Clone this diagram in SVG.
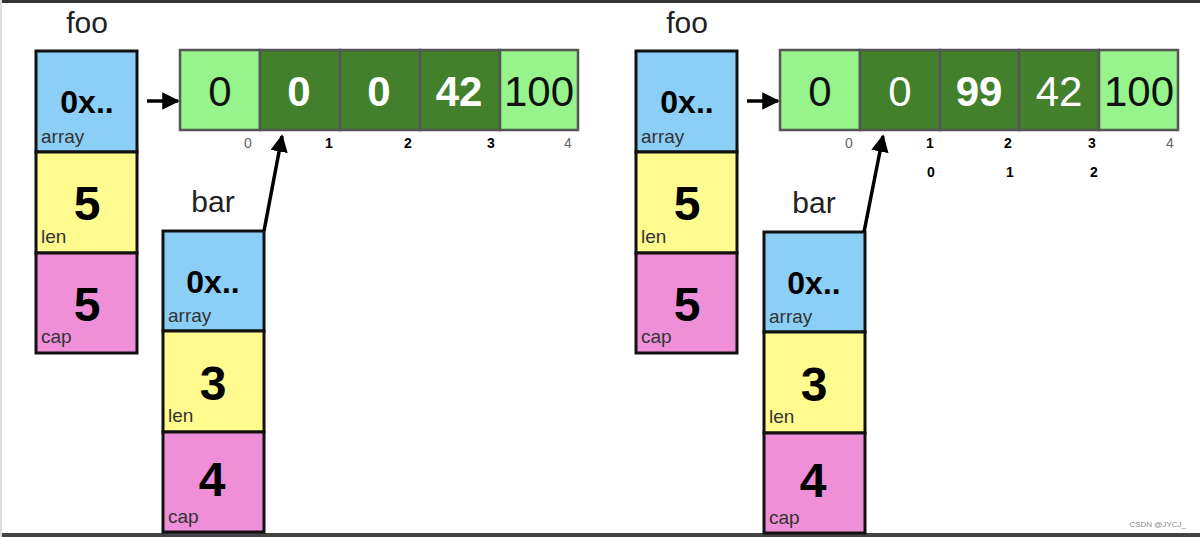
<svg xmlns="http://www.w3.org/2000/svg" width="1200" height="537" viewBox="0 0 1200 537">
<defs>
<style>
.lbl{font-family:"Liberation Sans",Arial,sans-serif;font-size:30px;fill:#222;text-anchor:middle}
.val{font-family:"Liberation Sans",Arial,sans-serif;font-weight:bold;fill:#000;text-anchor:middle}
.sub{font-family:"Liberation Sans",Arial,sans-serif;font-size:19px;fill:#333}
.cell{stroke:#555;stroke-width:2.5}
.lg{fill:#97F38B}
.dg{fill:#43802B}
.num{font-family:"Liberation Sans",Arial,sans-serif;font-size:42px;text-anchor:middle}
.idx{font-family:"Liberation Sans",Arial,sans-serif;font-size:14px;text-anchor:middle}
.box{stroke:#111;stroke-width:3}
.blue{fill:#8BCFF7}
.yel{fill:#FFFB8E}
.pink{fill:#EE8FD8}
.conn{stroke:#000;stroke-width:3.5;fill:none}
</style>
<marker id="ah" viewBox="0 0 10 10" refX="9" refY="5" markerWidth="5" markerHeight="5" orient="auto" markerUnits="strokeWidth">
<path d="M0,0 L10,5 L0,10 z" fill="#000"/>
</marker>
</defs>
<rect x="0" y="0" width="1200" height="537" fill="#fff"/>
<rect x="0" y="0" width="1200" height="3" fill="#333"/>
<rect x="0" y="533" width="1200" height="4" fill="#444"/>
<rect x="0" y="0" width="2" height="537" fill="#ddd"/>

<!-- LEFT -->
<g id="foo-left">
<text class="lbl" x="87" y="33">foo</text>
<rect class="box blue" x="36" y="51" width="101" height="101"/>
<rect class="box yel" x="36" y="152" width="101" height="101"/>
<rect class="box pink" x="36" y="253" width="101" height="100"/>
<text class="val" x="87" y="113" font-size="32">0x..</text>
<text class="sub" x="41" y="143">array</text>
<text class="val" x="87" y="220" font-size="48">5</text>
<text class="sub" x="41" y="243">len</text>
<text class="val" x="87" y="321" font-size="48">5</text>
<text class="sub" x="41" y="343">cap</text>
</g>

<g id="array-left">
<rect class="cell lg" x="180" y="50" width="80" height="80"/>
<rect class="cell dg" x="260" y="50" width="80" height="80"/>
<rect class="cell dg" x="340" y="50" width="80" height="80"/>
<rect class="cell dg" x="420" y="50" width="80" height="80"/>
<rect class="cell lg" x="500" y="50" width="78" height="80"/>
<text class="num" x="220" y="106" fill="#111">0</text>
<text class="num" x="299" y="106" fill="#fff" font-weight="bold">0</text>
<text class="num" x="379" y="106" fill="#fff" font-weight="bold">0</text>
<text class="num" x="459" y="106" fill="#fff" font-weight="bold">42</text>
<text class="num" x="539" y="106" fill="#111">100</text>
<text class="idx" x="248" y="148" fill="#666">0</text>
<text class="idx" x="329" y="148" fill="#000" font-weight="bold">1</text>
<text class="idx" x="408" y="148" fill="#000" font-weight="bold">2</text>
<text class="idx" x="491" y="148" fill="#000" font-weight="bold">3</text>
<text class="idx" x="568" y="148" fill="#666">4</text>
</g>

<g id="bar-left">
<text class="lbl" x="213" y="212">bar</text>
<rect class="box blue" x="163" y="231" width="101" height="100"/>
<rect class="box yel" x="163" y="331" width="101" height="101"/>
<rect class="box pink" x="163" y="432" width="101" height="100"/>
<text class="val" x="213" y="293" font-size="32">0x..</text>
<text class="sub" x="168" y="322">array</text>
<text class="val" x="213" y="400" font-size="48">3</text>
<text class="sub" x="168" y="422">len</text>
<text class="val" x="212" y="496" font-size="48">4</text>
<text class="sub" x="168" y="523">cap</text>
</g>

<!-- RIGHT -->
<g id="foo-right">
<text class="lbl" x="687" y="33">foo</text>
<rect class="box blue" x="636" y="51" width="101" height="101"/>
<rect class="box yel" x="636" y="152" width="101" height="101"/>
<rect class="box pink" x="636" y="253" width="101" height="100"/>
<text class="val" x="687" y="113" font-size="32">0x..</text>
<text class="sub" x="641" y="143">array</text>
<text class="val" x="687" y="220" font-size="48">5</text>
<text class="sub" x="641" y="243">len</text>
<text class="val" x="687" y="321" font-size="48">5</text>
<text class="sub" x="641" y="343">cap</text>
</g>

<g id="array-right">
<rect class="cell lg" x="780" y="50" width="80" height="80"/>
<rect class="cell dg" x="860" y="50" width="80" height="80"/>
<rect class="cell dg" x="940" y="50" width="79" height="80"/>
<rect class="cell dg" x="1019" y="50" width="80" height="80"/>
<rect class="cell lg" x="1099" y="50" width="79" height="80"/>
<text class="num" x="820" y="106" fill="#111">0</text>
<text class="num" x="900" y="106" fill="#fff">0</text>
<text class="num" x="979" y="106" fill="#fff" font-weight="bold">99</text>
<text class="num" x="1059" y="106" fill="#fff">42</text>
<text class="num" x="1139" y="106" fill="#111">100</text>
<text class="idx" x="849" y="148" fill="#666">0</text>
<text class="idx" x="930" y="148" fill="#000" font-weight="bold">1</text>
<text class="idx" x="1008" y="148" fill="#000" font-weight="bold">2</text>
<text class="idx" x="1092" y="148" fill="#000" font-weight="bold">3</text>
<text class="idx" x="1170" y="148" fill="#666">4</text>
<text class="idx" x="931" y="177" fill="#000" font-weight="bold">0</text>
<text class="idx" x="1010" y="177" fill="#000" font-weight="bold">1</text>
<text class="idx" x="1094" y="177" fill="#000" font-weight="bold">2</text>
</g>

<g id="bar-right">
<text class="lbl" x="814" y="213">bar</text>
<rect class="box blue" x="764" y="232" width="101" height="100"/>
<rect class="box yel" x="764" y="332" width="101" height="101"/>
<rect class="box pink" x="764" y="433" width="101" height="100"/>
<text class="val" x="814" y="294" font-size="32">0x..</text>
<text class="sub" x="769" y="323">array</text>
<text class="val" x="814" y="401" font-size="48">3</text>
<text class="sub" x="769" y="423">len</text>
<text class="val" x="813" y="497" font-size="48">4</text>
<text class="sub" x="769" y="524">cap</text>
</g>

<g id="connectors">
<line class="conn" x1="147" y1="101" x2="178" y2="101" marker-end="url(#ah)"/>
<line class="conn" x1="264" y1="231" x2="282" y2="136" marker-end="url(#ah)"/>
<line class="conn" x1="747" y1="101" x2="778" y2="101" marker-end="url(#ah)"/>
<line class="conn" x1="864" y1="232" x2="883" y2="136" marker-end="url(#ah)"/>
</g>

<text x="1186" y="527" font-family="Liberation Sans,Arial,sans-serif" font-size="8" fill="#888" text-anchor="end">CSDN @JYCJ_</text>
</svg>
